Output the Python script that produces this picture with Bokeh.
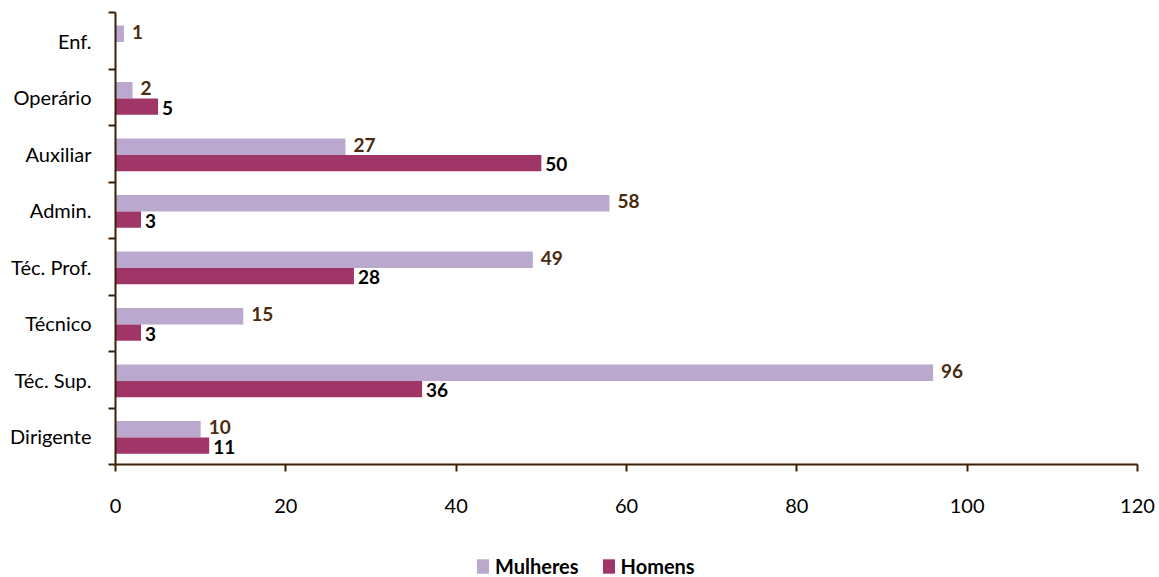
from bokeh.plotting import figure
from bokeh.layouts import column
from bokeh.models import Range1d, FixedTicker, Legend, LegendItem, ColumnDataSource
from bokeh.core.properties import value
from bokeh.embed import file_html
from bokeh.resources import INLINE

# Staff by professional category and sex (bottom to top)
categories = ["Dirigente", "Téc. Sup.", "Técnico", "Téc. Prof.", "Admin.", "Auxiliar", "Operário", "Enf."]
mulheres = [10, 96, 15, 49, 58, 27, 2, 1]
homens = [11, 36, 3, 28, 3, 50, 5, 0]
x_ticks = [0, 20, 40, 60, 80, 100, 120]
series_names = ["Mulheres", "Homens"]

FONT = "Lato"
AXIS_COLOR = "#3D1F05"
COL_M = "#BBA8CE"
COL_H = "#A03668"

n = len(categories)
bar_h = 0.29
centre = 0.48

y_m = [i + centre + bar_h / 2 for i in range(n)]
y_h = [i + centre - bar_h / 2 for i in range(n)]

src_m = ColumnDataSource(dict(y=y_m, v=mulheres, lab=[str(v) for v in mulheres]))
src_h = ColumnDataSource(dict(y=y_h, v=homens, lab=[str(v) for v in homens]))
lab_h = ColumnDataSource(dict(
    y=[y for y, v in zip(y_h, homens) if v > 0],
    v=[v for v in homens if v > 0],
    lab=[str(v) for v in homens if v > 0],
))

p = figure(
    width=1159, height=530,
    x_range=Range1d(0, 120), y_range=Range1d(0, n),
    output_backend="svg", toolbar_location=None,
    min_border_left=115, min_border_right=22,
    min_border_top=12, min_border_bottom=66,
)
p.outline_line_color = None
p.grid.visible = False
p.background_fill_color = "white"
p.border_fill_color = "white"

p.hbar(y="y", right="v", left=0, height=bar_h, source=src_m,
       fill_color=COL_M, line_color=None)
p.hbar(y="y", right="v", left=0, height=bar_h, source=src_h,
       fill_color=COL_H, line_color=None)

# value labels at the end of each bar
p.text(x="v", y="y", text="lab", source=src_m, x_offset=8, y_offset=-2,
       text_font=value(FONT), text_font_style="bold", text_font_size="19px",
       text_color="#4B2B0F", text_baseline="middle", text_align="left")
p.text(x="v", y="y", text="lab", source=lab_h, x_offset=4, y_offset=1,
       text_font=value(FONT), text_font_style="bold", text_font_size="19px",
       text_color="#000000", text_baseline="middle", text_align="left")

# x axis
xa = p.xaxis[0]
xa.ticker = FixedTicker(ticks=x_ticks)
xa.axis_line_color = AXIS_COLOR
xa.axis_line_width = 2
xa.major_tick_line_color = AXIS_COLOR
xa.major_tick_line_width = 2
xa.major_tick_in = 0
xa.major_tick_out = 7
xa.minor_tick_line_color = None
xa.major_label_standoff = 27
xa.major_label_text_font = FONT
xa.major_label_text_font_size = "20px"
xa.major_label_text_color = "#000000"

# y axis: category names at band centres, separators at band edges
ya = p.yaxis[0]
ya.ticker = FixedTicker(ticks=[i + 0.5 for i in range(n)],
                        minor_ticks=list(range(n + 1)))
ya.major_label_overrides = {i + 0.5: c for i, c in enumerate(categories)}
ya.axis_line_color = AXIS_COLOR
ya.axis_line_width = 2
ya.major_tick_line_color = None
ya.major_tick_in = 0
ya.major_tick_out = 0
ya.minor_tick_line_color = AXIS_COLOR
ya.minor_tick_line_width = 2
ya.minor_tick_in = 0
ya.minor_tick_out = 7
ya.major_label_standoff = 17
ya.major_label_text_font = FONT
ya.major_label_text_font_size = "20px"
ya.major_label_text_color = "#000000"

# legend strip underneath the chart; the key glyphs sit outside its range
leg = figure(
    width=1159, height=47,
    x_range=Range1d(0, 1), y_range=Range1d(0, 1),
    output_backend="svg", toolbar_location=None,
    min_border=0, min_border_left=0, min_border_right=0,
    min_border_top=0, min_border_bottom=0,
)
leg.axis.visible = False
leg.grid.visible = False
leg.outline_line_color = None
leg.background_fill_color = "white"
leg.border_fill_color = "white"

key_src = ColumnDataSource(dict(x=[-5, -5], y=[-5, -5]))
key_m = leg.rect(x="x", y="y", width=1, height=1, source=key_src,
                 fill_color=COL_M, line_color=None)
key_h = leg.rect(x="x", y="y", width=1, height=1, source=key_src,
                 fill_color=COL_H, line_color=None)

legend = Legend(
    items=[LegendItem(label=series_names[0], renderers=[key_m]),
           LegendItem(label=series_names[1], renderers=[key_h])],
    orientation="horizontal",
    location=(360, -1),
    glyph_width=15, glyph_height=18,
    label_standoff=5, spacing=22, padding=0, margin=0,
    border_line_color=None, background_fill_alpha=0,
    label_text_font=FONT, label_text_font_style="bold",
    label_text_font_size="20px", label_text_color="#000000",
)
leg.add_layout(legend)

layout = column(p, leg, spacing=0)
open("out.html", "w").write(file_html(layout, INLINE))
